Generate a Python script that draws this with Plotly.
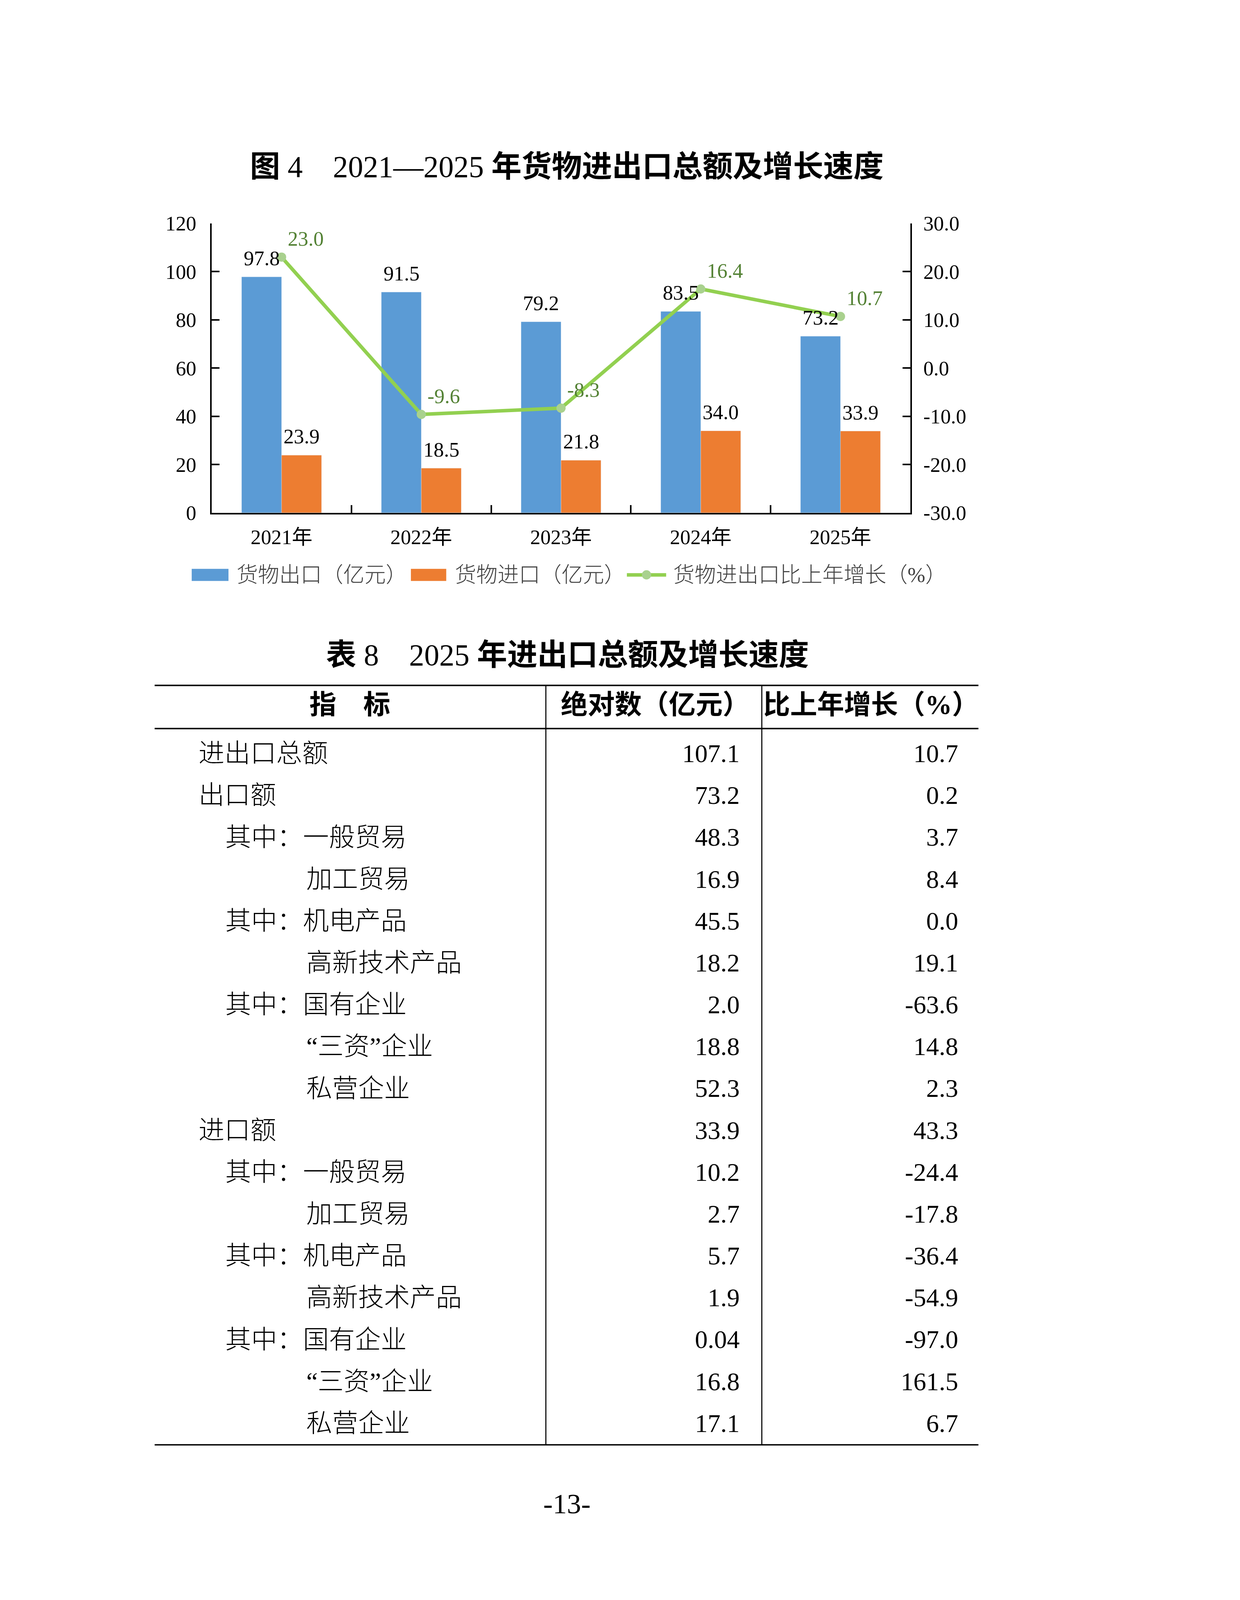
import plotly.graph_objects as go

# chart data (图4)
years = ['2021年', '2022年', '2023年', '2024年', '2025年']
exports = [97.8, 91.5, 79.2, 83.5, 73.2]
imports = [23.9, 18.5, 21.8, 34.0, 33.9]
growth = [23.0, -9.6, -8.3, 16.4, 10.7]
left_ticks = [0, 20, 40, 60, 80, 100, 120]
right_ticks = [-30, -20, -10, 0, 10, 20, 30]

# table data (表8)
row_labels = ['进出口总额', '出口额', '其中：一般贸易', '加工贸易', '其中：机电产品', '高新技术产品',
              '其中：国有企业', '“三资”企业', '私营企业', '进口额', '其中：一般贸易', '加工贸易',
              '其中：机电产品', '高新技术产品', '其中：国有企业', '“三资”企业', '私营企业']
row_levels = [0, 0, 1, 2, 1, 2, 1, 2, 2, 0, 1, 2, 1, 2, 1, 2, 2]
abs_values = [107.1, 73.2, 48.3, 16.9, 45.5, 18.2, 2.0, 18.8, 52.3,
              33.9, 10.2, 2.7, 5.7, 1.9, 0.04, 16.8, 17.1]
growth_values = [10.7, 0.2, 3.7, 8.4, 0.0, 19.1, -63.6, 14.8, 2.3,
                 43.3, -24.4, -17.8, -36.4, -54.9, -97.0, 161.5, 6.7]
header = ['<b>指　标</b>', '<b>绝对数（亿元）</b>', '<b>比上年增长（%）</b>']

# the page gets photographed slightly zoomed and offset, so layout numbers below are
# taken in screenshot pixels and mapped back to css pixels (factors found by trial)
KX, KY = 1.094, 1.080
MX, MY = 8, 39
FW, FH = 2870, 4066
BARGAP = 0.428


def X(v):
    return (v / KX - MX) / FW


def Y(v):
    return 1 - (v / KY - MY) / FH


def S(v):
    return v / 1.1


FONT = 'Liberation Serif, Noto Sans CJK SC, serif'
BLUE, ORANGE = '#5b9bd5', '#ed7d31'
LINE_GREEN, MARK_GREEN, TEXT_GREEN = '#92d050', '#a9d18e', '#548235'

fig = go.Figure()

for vals, name, color in [(exports, '货物出口（亿元）', BLUE), (imports, '货物进口（亿元）', ORANGE)]:
    fig.add_trace(go.Bar(x=years, y=vals, name=name, marker_color=color,
                         hoverinfo='skip', showlegend=False))
fig.add_trace(go.Scatter(
    x=years, y=growth, yaxis='y2', name='货物进出口比上年增长（%）',
    mode='lines+markers+text', text=[f'{v:.1f}' for v in growth], textposition='top right',
    textfont=dict(size=S(58), color=TEXT_GREEN, family=FONT),
    line=dict(color=LINE_GREEN, width=S(10)), marker=dict(color=MARK_GREEN, size=S(26)),
    cliponaxis=False, hoverinfo='skip', showlegend=False,
))

# table drawn as text on its own axes
indent_x = [0.0533, 0.0858, 0.1841]
rows = list(range(len(row_labels)))
fig.add_trace(go.Scatter(
    x=[indent_x[l] for l in row_levels], y=rows, xaxis='x2', yaxis='y3', mode='text',
    text=row_labels, textposition='middle right',
    textfont=dict(size=S(73), color='black', family=FONT, weight=300),
    hoverinfo='skip', showlegend=False,
))
for xv, vals in [(0.7101, abs_values), (0.9753, growth_values)]:
    fig.add_trace(go.Scatter(
        x=[xv] * len(vals), y=rows, xaxis='x2', yaxis='y3', mode='text',
        text=[str(v) for v in vals], textposition='middle left',
        textfont=dict(size=S(72), color='black', family=FONT), hoverinfo='skip', showlegend=False,
    ))
fig.add_trace(go.Scatter(
    x=[0.2370, 0.6076, 0.8696], y=[-1.16] * 3, xaxis='x2', yaxis='y3', mode='text',
    text=header, textposition='middle center',
    textfont=dict(size=S(76), color='black', family=FONT), hoverinfo='skip', showlegend=False,
))

axis_style = dict(showline=True, linecolor='black', linewidth=S(4), ticks='inside',
                  ticklen=S(22), tickwidth=S(4), tickcolor='black', showgrid=False, zeroline=False,
                  tickfont=dict(size=S(58), color='black', family=FONT))

shapes = []
# table rules
for y0, ref in [(0, 'y3 domain'), (1, 'y3 domain'), (-0.649, 'y3')]:
    shapes.append(dict(type='line', xref='x2', yref=ref, x0=0, x1=1, y0=y0, y1=y0,
                       line=dict(color='black', width=S(4))))
for xv in [0.4749, 0.7370]:
    shapes.append(dict(type='line', xref='x2', yref='y3 domain', x0=xv, x1=xv, y0=0, y1=1,
                       line=dict(color='black', width=S(3))))

# legend drawn by hand so the symbols scale with the page
leg_y = 1614
shapes.append(dict(type='rect', xref='paper', yref='paper', x0=X(537), x1=X(640),
                   y0=Y(leg_y + 17), y1=Y(leg_y - 17), fillcolor=BLUE, line_width=0))
shapes.append(dict(type='rect', xref='paper', yref='paper', x0=X(1151), x1=X(1250),
                   y0=Y(leg_y + 17), y1=Y(leg_y - 17), fillcolor=ORANGE, line_width=0))
shapes.append(dict(type='line', xref='paper', yref='paper', x0=X(1756), x1=X(1866),
                   y0=Y(leg_y), y1=Y(leg_y), line=dict(color=LINE_GREEN, width=S(10))))
shapes.append(dict(type='circle', xref='paper', yref='paper', x0=X(1798), x1=X(1824),
                   y0=Y(leg_y + 13), y1=Y(leg_y - 13), fillcolor=MARK_GREEN, line_width=0))

annotations = [
    dict(text='<b>图</b> 4　2021—2025 <b>年货物进出口总额及增长速度</b>', x=X(1588), y=Y(469),
         font=dict(size=S(85))),
    dict(text='<b>表</b> 8　2025 <b>年进出口总额及增长速度</b>', x=X(1590), y=Y(1839),
         font=dict(size=S(85))),
    dict(text='-13-', x=X(1588), y=Y(4219), font=dict(size=S(80))),
]
for xv, label in [(661, '货物出口（亿元）'), (1272, '货物进口（亿元）'), (1884, '货物进出口比上年增长（%）')]:
    annotations.append(dict(text=label, x=X(xv), y=Y(leg_y), xanchor='left',
                            font=dict(size=S(60), color='#404040', weight=300)))
for a in annotations:
    a.setdefault('xanchor', 'center')
    a.update(xref='paper', yref='paper', yanchor='middle', showarrow=False)
    a['font'].setdefault('color', 'black')
    a['font']['family'] = FONT

# value labels above the bars, placed on the bar axes
cat_w = (X(2550) - X(593)) * FW / len(years)
bar_off = cat_w * (1 - BARGAP) / 4
for vals, sign in [(exports, -1), (imports, 1)]:
    for yr, v in zip(years, vals):
        annotations.append(dict(text=f'{v:.1f}', x=yr, y=v, xref='x', yref='y',
                                xshift=sign * bar_off, yshift=48, showarrow=False,
                                xanchor='center', yanchor='middle',
                                font=dict(size=S(58), color='black', family=FONT)))

fig.update_layout(
    width=FW, height=FH,
    margin=dict(l=0, r=0, t=0, b=0),
    paper_bgcolor='white', plot_bgcolor='white',
    font=dict(family=FONT, color='black'),
    barmode='group', bargap=BARGAP, bargroupgap=0,
    showlegend=False,
    xaxis=dict(domain=[X(593), X(2550)], type='category', range=[-0.5, 4.5],
               tickson='boundaries', ticklabelstandoff=13, anchor='y', **axis_style),
    yaxis=dict(domain=[Y(1440), Y(628)], range=[0, 120], tickmode='array',
               tickvals=left_ticks, ticktext=[str(v) for v in left_ticks],
               ticklabelstandoff=25, anchor='x', **axis_style),
    yaxis2=dict(overlaying='y', side='right', range=[-30, 30], tickmode='array',
                tickvals=right_ticks, ticktext=[f'{v:.1f}' for v in right_ticks],
                ticklabelstandoff=19, anchor='x', **axis_style),
    xaxis2=dict(domain=[X(433), X(2741)], range=[0, 1], visible=False, anchor='y3'),
    yaxis3=dict(domain=[Y(4054), Y(1924)], range=[16.46, -1.68], visible=False,
                anchor='x2'),
    shapes=shapes,
    annotations=annotations,
)

fig.write_html('out.html')
